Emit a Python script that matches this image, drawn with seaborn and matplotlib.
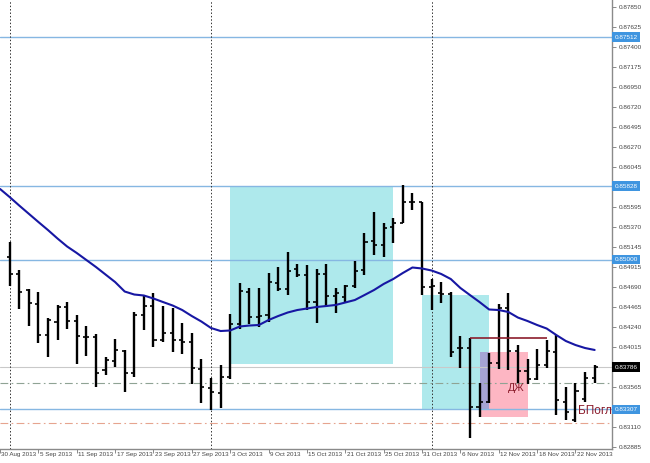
import numpy as np
import seaborn as sns
import matplotlib.pyplot as plt
import matplotlib.transforms as mtransforms

# daily bars, 2 Sep 2013 .. 26 Nov 2013 (business days)
first_day = '2013-09-02'
opens = [
    0.85025, 0.84837, 0.84656, 0.84498, 0.84148, 0.84295, 0.84464, 0.84309, 0.84122, 0.84129,
    0.83753, 0.83858, 0.83971, 0.83722, 0.84374, 0.84475, 0.84091, 0.84174, 0.84091, 0.84072,
    0.83764, 0.83546, 0.83496, 0.83677, 0.84272, 0.84637, 0.84355, 0.84374, 0.84738, 0.84664,
    0.84890, 0.84825, 0.84524, 0.84833, 0.84588, 0.84580, 0.84701, 0.84882, 0.85213, 0.85164,
    0.85364, 0.85409, 0.85653, 0.85653, 0.84690, 0.84625, 0.84611, 0.83998, 0.84004, 0.83338,
    0.83395, 0.83828, 0.84449, 0.83971, 0.83745, 0.83651, 0.83809, 0.83956, 0.83395, 0.83188,
    0.83422, 0.83659]
highs = [
    0.85201, 0.84882, 0.84664, 0.84637, 0.84336, 0.84487, 0.84524, 0.84374, 0.84249, 0.84159,
    0.83896, 0.84099, 0.83979, 0.84411, 0.84599, 0.84619, 0.84475, 0.84449, 0.84280, 0.84174,
    0.83874, 0.83659, 0.83809, 0.84385, 0.84738, 0.84675, 0.84675, 0.84851, 0.84912, 0.85088,
    0.84949, 0.84938, 0.84890, 0.84949, 0.84675, 0.84712, 0.84987, 0.85303, 0.85540, 0.85416,
    0.85465, 0.85841, 0.85754, 0.85653, 0.84780, 0.84750, 0.84628, 0.84142, 0.84111, 0.83609,
    0.83948, 0.84498, 0.84619, 0.84035, 0.83874, 0.83986, 0.84091, 0.84148, 0.83564, 0.83603,
    0.83734, 0.83809]
lows = [
    0.84701, 0.84438, 0.84249, 0.84061, 0.83903, 0.84091, 0.84212, 0.83820, 0.83914, 0.83557,
    0.83696, 0.83783, 0.83508, 0.83677, 0.84204, 0.84016, 0.84072, 0.83959, 0.83933, 0.83595,
    0.83384, 0.83301, 0.83320, 0.83648, 0.84212, 0.84272, 0.84242, 0.84298, 0.84648, 0.84599,
    0.84799, 0.84430, 0.84287, 0.84467, 0.84400, 0.84506, 0.84675, 0.84825, 0.85051, 0.85025,
    0.85183, 0.85409, 0.85559, 0.84599, 0.84430, 0.84506, 0.83903, 0.83772, 0.82982, 0.83219,
    0.83377, 0.83761, 0.83753, 0.83603, 0.83595, 0.83640, 0.83772, 0.83245, 0.83188, 0.83169,
    0.83395, 0.83603]
closes = [
    0.84837, 0.84637, 0.84506, 0.84148, 0.84317, 0.84461, 0.84309, 0.84137, 0.84122, 0.83722,
    0.83866, 0.83979, 0.83722, 0.84374, 0.84475, 0.84091, 0.84174, 0.84091, 0.84072, 0.83772,
    0.83557, 0.83504, 0.83677, 0.84272, 0.84648, 0.84355, 0.84366, 0.84750, 0.84664, 0.84874,
    0.84825, 0.84524, 0.84833, 0.84588, 0.84619, 0.84701, 0.84874, 0.85201, 0.85164, 0.85353,
    0.85409, 0.85653, 0.85653, 0.84690, 0.84701, 0.84611, 0.83959, 0.84004, 0.83338, 0.83395,
    0.83828, 0.84449, 0.83973, 0.83745, 0.83651, 0.83809, 0.83971, 0.83414, 0.83282, 0.83519,
    0.83659, 0.83786]
# moving average, starts one bar earlier (30 Aug) so it enters from the left edge
ma_first_day = '2013-08-30'
ma = [
    0.85797,
    0.85706, 0.85610, 0.85517, 0.85424, 0.85333, 0.85237, 0.85147, 0.85074, 0.84995, 0.84916,
    0.84831, 0.84746, 0.84639, 0.84605, 0.84594, 0.84560, 0.84520, 0.84481, 0.84430, 0.84362,
    0.84300, 0.84227, 0.84193, 0.84199, 0.84244, 0.84255, 0.84261, 0.84317, 0.84362, 0.84402,
    0.84430, 0.84447, 0.84464, 0.84475, 0.84487, 0.84515, 0.84543, 0.84599, 0.84656, 0.84724,
    0.84780, 0.84848, 0.84910, 0.84899, 0.84876, 0.84837, 0.84780, 0.84679, 0.84599, 0.84520,
    0.84436, 0.84430, 0.84408, 0.84345, 0.84306, 0.84261, 0.84221, 0.84148, 0.84080, 0.84035,
    0.84001, 0.83979]

xtick_dates = ['2013-08-30', '2013-09-05', '2013-09-11', '2013-09-17', '2013-09-23', '2013-09-27',
               '2013-10-03', '2013-10-09', '2013-10-15', '2013-10-21', '2013-10-25', '2013-10-31',
               '2013-11-06', '2013-11-12', '2013-11-18', '2013-11-22']
xtick_labels = ['30 Aug 2013', '5 Sep 2013', '11 Sep 2013', '17 Sep 2013', '23 Sep 2013', '27 Sep 2013',
                '3 Oct 2013', '9 Oct 2013', '15 Oct 2013', '21 Oct 2013', '25 Oct 2013', '31 Oct 2013',
                '6 Nov 2013', '12 Nov 2013', '18 Nov 2013', '22 Nov 2013']
month_starts = ['2013-09-02', '2013-10-01', '2013-11-01']
ytick_values = [0.87850, 0.87625, 0.87400, 0.87175, 0.86950, 0.86720, 0.86495, 0.86270, 0.86045,
                0.85595, 0.85370, 0.85145, 0.84915, 0.84690, 0.84465, 0.84240, 0.84015, 0.83565,
                0.83110, 0.82885]
level_lines = [0.87512, 0.85828, 0.85000, 0.83307]
bid_price = 0.83786
dashdot_green = 0.83602
dashdot_red = 0.83155

# (start date, end date, low, high, colour)
boxes = [('2013-10-03', '2013-10-28', 0.83820, 0.85828, '#aee9ec'),
         ('2013-10-31', '2013-11-11', 0.83307, 0.84599, '#aee9ec'),
         ('2013-11-08', '2013-11-15', 0.83225, 0.83959, '#fdb6c3'),
         ('2013-11-08', '2013-11-11', 0.83307, 0.83959, '#a5a4d4')]
trend = ('2013-11-07', '2013-11-19', 0.84111)
notes = [('ДЖ', 52.8, 0.83545, 7.5, 'center'), ('БПогл', 59.3, 0.83293, 8.5, 'left')]


def pos(d):
    return int(np.busday_count(first_day, d))


sns.set_style('white')
plt.rcParams['font.family'] = ['Liberation Sans', 'DejaVu Sans']

fig = plt.figure(figsize=(6.5, 4.63), dpi=100)
ax = fig.add_axes([0, 14 / 463, 612 / 650, 449 / 463])

x = np.arange(len(opens))
x_ma = np.arange(len(ma)) + pos(ma_first_day)

for d0, d1, lo, hi, col in boxes:
    ax.fill_between([pos(d0), pos(d1)], lo, hi, color=col, lw=0, zorder=0.5)

for lv in level_lines:
    ax.axhline(lv, color='#86b7e2', lw=1, zorder=1)
ax.axhline(bid_price, color='#c9c9c9', lw=0.8, zorder=1)
ax.axhline(dashdot_green, color='#8fa394', lw=0.8, ls=(0, (7, 3, 1.5, 3)), zorder=1)
ax.axhline(dashdot_red, color='#e6a48f', lw=0.8, ls=(0, (7, 3, 1.5, 3)), zorder=1)
for d in month_starts:
    ax.axvline(pos(d), color='#333333', lw=0.7, ls=(0, (1.5, 2)), zorder=1)

# OHLC bars
ax.vlines(x, lows, highs, color='black', lw=1.7, zorder=3)
ax.hlines(opens, x - 0.32, x, color='black', lw=1.2, zorder=3)
ax.hlines(closes, x, x + 0.32, color='black', lw=1.2, zorder=3)

sns.lineplot(x=x_ma, y=ma, color='#1717a3', lw=1.5, ax=ax, zorder=4)

ax.hlines(trend[2], pos(trend[0]), pos(trend[1]), color='#8c1d2c', lw=1.2, zorder=4)
for txt, tx, ty, fs, ha in notes:
    ax.text(tx, ty, txt, color='#8c1d2c', fontsize=fs, ha=ha, va='center', zorder=5)

ax.set_xlim(-0.28, 62.81)
ax.set_ylim(0.82861, 0.87930)

ax.yaxis.tick_right()
ax.set_yticks(ytick_values)
ax.set_yticklabels([f'{v:.5f}' for v in ytick_values])
ax.set_xticks([pos(d) for d in xtick_dates])
ax.set_xticklabels([''] * len(xtick_dates))
ax.tick_params(axis='y', labelsize=4.6, length=3, width=0.6, color='#777777',
               labelcolor='#444444', pad=2, right=True, left=False)
ax.tick_params(axis='x', length=3, width=0.6, color='#777777', bottom=True)

# date labels start at their tick, MT4 style
xtrans = mtransforms.blended_transform_factory(ax.transData, ax.transAxes)
for d, lbl in zip(xtick_dates, xtick_labels):
    ax.text(pos(d) + 0.15, -0.006, lbl, transform=xtrans, fontsize=4.5, color='#444444',
            ha='left', va='top', clip_on=False)

for side in ['top', 'left']:
    ax.spines[side].set_visible(False)
for side in ['right', 'bottom']:
    ax.spines[side].set_color('#8a8a8a')
    ax.spines[side].set_linewidth(1)

trans = mtransforms.blended_transform_factory(ax.transAxes, ax.transData)
for lv in level_lines:
    ax.text(1.004, lv, f'{lv:.5f}', transform=trans, fontsize=4.6, color='white', ha='left',
            va='center', bbox=dict(boxstyle='square,pad=0.35', fc='#3f95e0', ec='none'), clip_on=False)
ax.text(1.004, bid_price, f'{bid_price:.5f}', transform=trans, fontsize=4.6, color='white', ha='left',
        va='center', bbox=dict(boxstyle='square,pad=0.35', fc='black', ec='none'), clip_on=False)

fig.savefig('out.png', dpi=100)
